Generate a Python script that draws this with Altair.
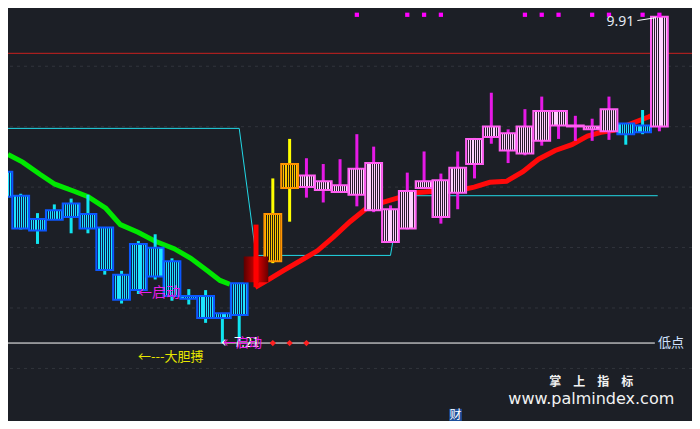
import altair as alt
import pandas as pd

# ---------------- data ----------------
idx = list(range(40))
kind = (["blue"] * 15 + ["red", "orange", "orange"] + ["pink"] * 19
        + ["blue", "blue", "pink"])
opens = [8.628, 8.429, 8.237, 8.309, 8.365, 8.277, 8.166, 7.776, 8.030, 7.999,
         7.887, 7.600, 7.600, 7.457, 7.441, 7.712, 7.887, 8.492, 8.500, 8.476,
         8.460, 8.437, 8.309, 8.046, 8.158, 8.492, 8.253, 8.453, 8.691, 8.915,
         8.803, 8.779, 8.883, 9.010, 9.002, 8.978, 8.962, 9.026, 9.010, 9.002]
closes = [8.421, 8.158, 8.142, 8.230, 8.253, 8.158, 7.815, 7.568, 7.648, 7.760,
          7.600, 7.576, 7.417, 7.417, 7.704, 7.927, 8.277, 8.691, 8.596, 8.548,
          8.516, 8.652, 8.699, 8.317, 8.468, 8.548, 8.556, 8.660, 8.899, 9.002,
          8.946, 9.002, 9.130, 9.130, 9.010, 9.002, 9.145, 8.938, 8.954, 9.910]
highs = [8.644, 8.445, 8.285, 8.357, 8.405, 8.437, 8.166, 7.807, 8.054, 8.110,
         7.911, 7.656, 7.648, 7.457, 7.704, 8.190, 8.572, 8.899, 8.739, 8.691,
         8.731, 8.938, 8.835, 8.349, 8.620, 8.795, 8.612, 8.795, 8.907, 9.281,
         8.978, 9.145, 9.249, 9.130, 9.090, 9.066, 9.249, 9.026, 9.138, 9.910]
lows = [8.405, 8.150, 8.030, 8.230, 8.118, 8.118, 7.776, 7.537, 7.616, 7.736,
        7.560, 7.529, 7.377, 7.210, 7.218, 7.672, 7.871, 8.214, 8.413, 8.373,
        8.460, 8.341, 8.293, 8.046, 8.150, 8.492, 8.198, 8.317, 8.572, 8.859,
        8.699, 8.763, 8.843, 8.899, 8.883, 8.883, 8.891, 8.851, 8.938, 8.962]

green_x = [0.244, 1.116, 2.163, 3.035, 4.14, 5.01, 6.06, 6.93, 7.98, 8.97,
           10.13, 11.12, 12.05, 12.86, 13.44]
green_y = [8.771, 8.707, 8.604, 8.524, 8.468, 8.421, 8.325, 8.190, 8.126, 8.054,
           7.991, 7.911, 7.815, 7.728, 7.696]

red_x = [14.95, 15.77, 16.70, 17.69, 18.67, 19.60, 20.59, 21.58, 22.34, 23.50,
         24.49, 25.07, 25.83, 27.16, 27.98, 28.91, 29.90, 30.88, 31.81, 32.80,
         33.79, 34.72, 35.53, 36.29, 38.38, 38.73]
red_y = [7.672, 7.736, 7.815, 7.895, 7.975, 8.086, 8.214, 8.325, 8.365, 8.413,
         8.453, 8.460, 8.468, 8.476, 8.500, 8.540, 8.548, 8.628, 8.731, 8.803,
         8.851, 8.922, 8.954, 8.970, 9.082, 9.106]

band_x = [0.244, 14.0, 15.0, 23.0, 23.6, 38.9]
band_y = [8.986, 8.986, 7.935, 7.935, 8.429, 8.429]

grid_levels = [7.0, 7.5, 8.0, 8.5, 9.0, 9.5]
top_level = 9.607
low_price = 7.21
low_line_end = 38.73
dot_idx = [21, 24, 25, 26, 31, 32, 33, 35, 36, 38, 39]
dot_price = 9.926
diamond_idx = [16, 17, 18]

X_DOMAIN = [0.244, 40.94]
Y_DOMAIN = [6.565, 9.982]
BG = "#1c1f26"

xs = alt.Scale(domain=X_DOMAIN)
ys = alt.Scale(domain=Y_DOMAIN)

df = pd.DataFrame({"i": idx, "kind": kind, "o": opens, "c": closes,
                   "h": highs, "l": lows})
df["top"] = df[["o", "c"]].max(axis=1)
df["bot"] = df[["o", "c"]].min(axis=1)
df["x1"] = df["i"] - 0.5
df["x2"] = df["i"] + 0.5


def X(f):
    return alt.X(f, type="quantitative", scale=xs, axis=None)


def Y(f):
    return alt.Y(f, type="quantitative", scale=ys, axis=None)


def stripes(light, dark, n=8, frac=0.55):
    stops = []
    for j in range(n):
        a = round(j / n, 4)
        b = round((j + frac) / n, 4)
        c = round((j + 1) / n, 4)
        stops += [alt.GradientStop(color=light, offset=a),
                  alt.GradientStop(color=light, offset=b),
                  alt.GradientStop(color=dark, offset=b),
                  alt.GradientStop(color=dark, offset=c)]
    return alt.LinearGradient(gradient="linear", stops=stops,
                              x1=0, x2=1, y1=0, y2=0)


# ---------------- layers ----------------
grid = alt.Chart(pd.DataFrame({"v": grid_levels})).mark_rule(
    color="#31343c", strokeDash=[3, 4], strokeWidth=1).encode(y=Y("v"))

topline = alt.Chart(pd.DataFrame({"v": [top_level]})).mark_rule(
    color="#c8201e", strokeWidth=1).encode(y=Y("v"))

band = alt.Chart(pd.DataFrame({"x": band_x, "y": band_y})).mark_line(
    color="#22d8e6", strokeWidth=1, clip=True).encode(x=X("x"), y=Y("y"))

lowline = alt.Chart(pd.DataFrame({"a": [X_DOMAIN[0]], "b": [low_line_end],
                                  "y": [low_price]})).mark_rule(
    color="#ffffff", strokeWidth=1).encode(x=X("a"), x2="b", y=Y("y"))

green = alt.Chart(pd.DataFrame({"x": green_x, "y": green_y})).mark_line(
    color="#00e800", strokeWidth=5, clip=True).encode(x=X("x"), y=Y("y"))

red = alt.Chart(pd.DataFrame({"x": red_x, "y": red_y})).mark_line(
    color="#ff0a0a", strokeWidth=5).encode(x=X("x"), y=Y("y"))

wick_colors = alt.Scale(domain=["blue", "pink", "orange", "red"],
                        range=["#10e4f0", "#e619e6", "#ffff00", "#ff0000"])
wicks = alt.Chart(df).transform_filter("datum.kind != 'red'").mark_rule(
    strokeWidth=3, clip=True).encode(
    x=X("i"), y=Y("h"), y2="l",
    color=alt.Color("kind:N", scale=wick_colors, legend=None))


def boxes(k, light, dark, border):
    return alt.Chart(df).transform_filter(f"datum.kind == '{k}'").mark_rect(
        fill=stripes(light, dark), stroke=border, strokeWidth=2, clip=True
    ).encode(x=X("x1"), x2="x2", y=Y("top"), y2="bot")


blue_boxes = boxes("blue", "#1ee4ff", "#0a1e52", "#0b58ff")
pink_boxes = boxes("pink", "#ffd2ff", "#2a1a2e", "#ff5ef2")
orange_boxes = boxes("orange", "#ffc800", "#2a1e0a", "#ff9400")

red_grad = alt.LinearGradient(
    gradient="linear", x1=0, x2=1, y1=0, y2=0,
    stops=[alt.GradientStop(color="#5a0000", offset=0),
           alt.GradientStop(color="#c80000", offset=0.45),
           alt.GradientStop(color="#d00000", offset=0.6),
           alt.GradientStop(color="#6a0000", offset=1)])
red_block = alt.Chart(df).transform_filter("datum.kind == 'red'").transform_calculate(
    a="datum.i - 0.73", b="datum.i + 0.73").mark_rect(fill=red_grad).encode(
    x=X("a:Q"), x2="b:Q", y=Y("top"), y2="bot")
red_wick = alt.Chart(df).transform_filter("datum.kind == 'red'").mark_rule(
    color="#ff0000", strokeWidth=5).encode(x=X("i"), y=Y("h"), y2="l")

dots = alt.Chart(pd.DataFrame({"i": dot_idx, "y": [dot_price] * len(dot_idx)})).mark_square(
    color="#ff00ff", size=18, opacity=1).encode(x=X("i"), y=Y("y"))

diamonds = alt.Chart(pd.DataFrame({"i": diamond_idx,
                                   "y": [low_price] * len(diamond_idx)})).mark_point(
    shape="diamond", filled=True, color="#ff2020", size=40, opacity=1).encode(
    x=X("i"), y=Y("y"))

# pointer from the 9.91 label to the top of the last candle
pointer = alt.Chart(pd.DataFrame({"a": [37.69], "b": [38.79],
                                  "ya": [9.878], "yb": [9.902]})).mark_rule(
    color="#ffffff", strokeWidth=1).encode(x=X("a"), x2="b", y=Y("ya"), y2="yb")

FONT = "Noto Sans CJK SC"

# labels: text, x, y, colour, size
left_labels = pd.DataFrame({
    "t": ["低点", "←启动", "←7.21", "←启动", "←---大胆搏"],
    "x": [38.91, 7.98, 12.92, 13.03, 7.98],
    "y": [low_price, 7.624, low_price, low_price, 7.091],
    "col": ["#d2e2ff", "#e81ce8", "#ffffff", "#e81ce8", "#e6e600"],
    "sz": [13, 14, 13, 13, 13],
})
left_text = alt.Chart(left_labels).mark_text(
    align="left", baseline="middle", font=FONT).encode(
    x=X("x"), y=Y("y"), text="t:N",
    color=alt.Color("col:N", scale=None), size=alt.Size("sz:Q", scale=None))

hi_text = alt.Chart(pd.DataFrame({"t": ["9.91"], "x": [37.51], "y": [9.870]})).mark_text(
    align="right", baseline="middle", font="Noto Sans", fontSize=14,
    color="#e2e8f2").encode(x=X("x"), y=Y("y"), text="t:N")

wm1 = alt.Chart(pd.DataFrame({"t": ["掌　上　指　标"], "x": [34.95], "y": [6.885]})).mark_text(
    align="center", baseline="middle", font=FONT, fontSize=12, fontWeight="bold",
    color="#f2f2f2").encode(x=X("x"), y=Y("y"), text="t:N")
wm2 = alt.Chart(pd.DataFrame({"t": ["www.palmindex.com"], "x": [34.95], "y": [6.750]})).mark_text(
    align="center", baseline="middle", font="DejaVu Sans", fontSize=16,
    color="#f2f2f2").encode(x=X("x"), y=Y("y"), text="t:N")

cai_bg = alt.Chart(pd.DataFrame({"x": [26.87], "y": [6.613]})).mark_square(
    color="#1d4e9a", size=160, opacity=1).encode(x=X("x"), y=Y("y"))
cai = alt.Chart(pd.DataFrame({"t": ["财"], "x": [26.87], "y": [6.613]})).mark_text(
    align="center", baseline="middle", font=FONT, fontSize=12,
    color="#ffffff").encode(x=X("x"), y=Y("y"), text="t:N")

chart = alt.layer(
    grid, topline, band, lowline, green, red, wicks,
    blue_boxes, pink_boxes, orange_boxes, red_block, red_wick,
    dots, diamonds, pointer, left_text, hi_text, wm1, wm2, cai_bg, cai
).properties(
    width=684, height=413, padding=0, background=BG,
    autosize=alt.AutoSizeParams(type="none")
).configure_view(stroke=None)

chart.save("out.html", embed_options={"renderer": "svg", "actions": False})
